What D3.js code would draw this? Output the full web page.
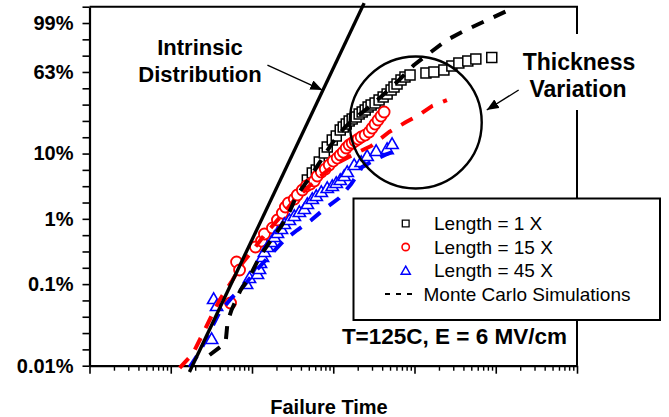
<!DOCTYPE html>
<html><head><meta charset="utf-8">
<script src="https://cdn.jsdelivr.net/npm/d3@7"></script>
<style>
html,body{margin:0;padding:0;background:#fff;}
svg{display:block;font-family:"Liberation Sans",Arial,Helvetica,sans-serif;}
</style></head><body>
<svg id="c" width="669" height="417"></svg>
<script>
// ---- DATA: [log10(failure time), Weibull ln(-ln(1-F))] ----
const intrinsic = [[1.23,-9.19],[3.38,2.11]];

const len1X = [[2.681,-3.311],[2.742,-3.096],[2.791,-3.004],[2.828,-2.759],[2.890,-2.483],[2.926,-2.300],[2.988,-2.085],[3.037,-1.963],[3.086,-1.779],[3.123,-1.687],[3.160,-1.595],[3.196,-1.503],[3.233,-1.442],[3.282,-1.381],[3.319,-1.289],[3.356,-1.227],[3.393,-1.166],[3.429,-1.074],[3.466,-1.013],[3.515,-0.952],[3.564,-0.860],[3.614,-0.768],[3.663,-0.676],[3.712,-0.553],[3.748,-0.461],[3.785,-0.370],[3.834,-0.247],[3.883,-0.155],[3.945,-0.094],[4.141,-0.033],[4.239,-0.002],[4.362,0.059],[4.460,0.182],[4.546,0.274],[4.656,0.335],[4.755,0.396],[4.951,0.442]];

const len15X = [[1.736,-7.079],[1.810,-5.823],[1.847,-6.068],[2.043,-5.363],[2.117,-5.180],[2.153,-4.965],[2.252,-4.781],[2.313,-4.536],[2.374,-4.322],[2.411,-4.138],[2.448,-4.015],[2.521,-3.893],[2.558,-3.770],[2.620,-3.617],[2.669,-3.494],[2.718,-3.433],[2.767,-3.341],[2.804,-3.188],[2.853,-3.066],[2.902,-2.974],[2.951,-2.851],[3.000,-2.729],[3.049,-2.637],[3.086,-2.545],[3.123,-2.453],[3.160,-2.330],[3.196,-2.238],[3.233,-2.177],[3.270,-2.116],[3.307,-2.055],[3.344,-1.993],[3.393,-1.932],[3.442,-1.840],[3.479,-1.718],[3.515,-1.595],[3.552,-1.472],[3.589,-1.350],[3.626,-1.227]];

const len45X = [[1.503,-8.213],[1.528,-6.987],[1.564,-7.202],[1.933,-6.528],[1.969,-6.344],[2.067,-6.221],[2.092,-6.068],[2.104,-5.884],[2.129,-5.700],[2.153,-5.547],[2.190,-5.394],[2.239,-5.241],[2.276,-5.088],[2.313,-4.965],[2.362,-4.843],[2.399,-4.689],[2.460,-4.567],[2.521,-4.444],[2.583,-4.322],[2.644,-4.230],[2.681,-4.077],[2.742,-3.923],[2.791,-3.831],[2.853,-3.709],[2.926,-3.586],[2.988,-3.525],[3.037,-3.433],[3.086,-3.341],[3.135,-3.219],[3.172,-3.096],[3.258,-2.882],[3.344,-2.790],[3.417,-2.606],[3.528,-2.453],[3.663,-2.392],[3.724,-2.238]];

const mc1X = [[1.478,-8.672],[1.675,-8.304],[1.699,-7.661],[1.748,-7.293],[1.859,-6.681],[1.969,-6.282],[2.092,-5.670],[2.252,-5.088],[2.362,-4.720],[2.472,-4.230],[2.546,-3.801],[2.706,-3.249],[2.853,-2.698],[2.988,-2.177],[3.135,-1.718],[3.282,-1.381],[3.442,-1.074],[3.626,-0.676],[3.810,-0.247],[3.994,0.213],[4.153,0.519],[4.399,0.979],[4.607,1.254],[4.791,1.469],[5.123,1.852]];

const mc15X = [[1.110,-9.070],[1.270,-8.641],[1.393,-8.029],[1.478,-7.600],[1.601,-6.987],[1.761,-6.374],[1.883,-5.853],[2.031,-5.394],[2.153,-4.996],[2.337,-4.475],[2.521,-3.923],[2.706,-3.494],[2.890,-3.096],[3.074,-2.759],[3.258,-2.514],[3.466,-2.269],[3.687,-1.840],[3.896,-1.534],[4.055,-1.319],[4.215,-1.044],[4.399,-0.860]];

const mc45X = [[1.233,-9.040],[1.356,-8.580],[1.478,-7.967],[1.601,-7.355],[1.748,-6.926],[1.908,-6.528],[2.055,-6.068],[2.215,-5.639],[2.399,-5.149],[2.558,-4.843],[2.730,-4.536],[2.890,-4.199],[3.074,-3.862],[3.221,-3.433],[3.356,-2.912],[3.503,-2.698],[3.663,-2.514],[3.847,-2.330]];

const yLabelPos  = [1.5, 0, -2.5, -4.5, -6.5, -9];
const yLabelText = ["99%","63%","10%","1%","0.1%","0.01%"];
const legendLabels = ["Length = 1 X","Length = 15 X","Length = 45 X","Monte Carlo Simulations"];

// ---- CHART ----
const svg = d3.select("#c");
const FONT = '"Liberation Sans",Arial,Helvetica,sans-serif';
const L=89.5, R=577, T=6.7, B=365.7;
const x = d3.scaleLog().domain([1,1e6]).range([L,R]);
const y = d3.scaleLinear().domain([-9,2]).range([B,T]);
const X = d => x(Math.pow(10,d[0])), Y = d => y(d[1]);

// y axis
const yAxis = d3.axisLeft(y)
  .tickValues(d3.range(-9,2.001,0.5))
  .tickSize(7).tickSizeOuter(0).tickPadding(9)
  .tickFormat(v => { const i = yLabelPos.findIndex(p => Math.abs(p-v)<1e-6); return i>=0 ? yLabelText[i] : ""; });
const gy = svg.append("g").attr("transform",`translate(${L},0)`).call(yAxis);
gy.select(".domain").attr("stroke-width",2.2);
gy.selectAll(".tick line").attr("stroke-width",1.6);
gy.selectAll("text").attr("font-family",FONT).attr("font-size",20).attr("font-weight","bold").attr("fill","#000");

// x axis (minor + major)
const minor = [];
for (let e=0;e<6;e++) for (let m=2;m<=9;m++) minor.push(m*Math.pow(10,e));
const majors = d3.range(0,7).map(e=>Math.pow(10,e));
const gxm = svg.append("g").attr("transform",`translate(0,${B})`)
  .call(d3.axisBottom(x).tickValues(minor).tickSize(5).tickSizeOuter(0).tickFormat(""));
gxm.select(".domain").attr("stroke-width",2.2);
gxm.selectAll(".tick line").attr("stroke-width",1.4);
const gxM = svg.append("g").attr("transform",`translate(0,${B})`)
  .call(d3.axisBottom(x).tickValues(majors).tickSize(8).tickSizeOuter(0).tickFormat(""));
gxM.select(".domain").remove();
gxM.selectAll(".tick line").attr("stroke-width",1.6);

// frame top + right
svg.append("path").attr("d",`M${L},${T}H${R}V${B}`).attr("fill","none").attr("stroke","#000").attr("stroke-width",2);

// markers
const sym = (type,size) => d3.symbol().type(type).size(size)();
const gPts = svg.append("g");
gPts.selectAll(".sq").data(len1X).join("path").attr("class","sq")
  .attr("transform",d=>`translate(${X(d)},${Y(d)})`).attr("d",sym(d3.symbolSquare,100))
  .attr("fill","#fff").attr("stroke","#000").attr("stroke-width",1.5);
gPts.selectAll(".ci").data(len15X).join("path").attr("class","ci")
  .attr("transform",d=>`translate(${X(d)},${Y(d)})`).attr("d",sym(d3.symbolCircle,95))
  .attr("fill","#fff").attr("stroke","#ff0000").attr("stroke-width",1.8);
gPts.selectAll(".tr").data(len45X).join("path").attr("class","tr")
  .attr("transform",d=>`translate(${X(d)},${Y(d)})`).attr("d",sym(d3.symbolTriangle,65))
  .attr("fill","#fff").attr("stroke","#0000ff").attr("stroke-width",1.6);

// Monte Carlo dashed lines
const line = d3.line().x(X).y(Y);
[[mc45X,"#0000ff"],[mc15X,"#ff0000"],[mc1X,"#000"]].forEach(([data,col])=>{
  svg.append("path").attr("d",line(data)).attr("fill","none").attr("stroke",col)
    .attr("stroke-width",4).attr("stroke-linejoin","round").attr("stroke-dasharray","13,11");
});

// intrinsic line
svg.append("path").attr("d",d3.line().x(X).y(Y)(intrinsic)).attr("fill","none")
  .attr("stroke","#000").attr("stroke-width",3.4);

// annotations
const defs = svg.append("defs");
defs.append("marker").attr("id","ah").attr("viewBox","0 0 12 10").attr("refX",12).attr("refY",5)
  .attr("markerWidth",12).attr("markerHeight",10).attr("markerUnits","userSpaceOnUse").attr("orient","auto")
  .append("path").attr("d","M0,0L12,5L0,10Z").attr("fill","#000");

// circle around thickness variation
svg.append("circle").attr("cx",x(Math.pow(10,4.015))).attr("cy",y(-1.549)).attr("r",66)
  .attr("fill","none").attr("stroke","#000").attr("stroke-width",2.4);

// label bg for thickness variation (covers frame)
svg.append("rect").attr("x",516).attr("y",34).attr("width",126).attr("height",76).attr("fill","#fff");

const bold = (t,xx,yy,size,anchor) => svg.append("text").attr("x",xx).attr("y",yy).text(t)
  .attr("font-family",FONT).attr("font-weight","bold").attr("font-size",size).attr("text-anchor",anchor||"middle").attr("fill","#000");
bold("Intrinsic",200,55,22);
bold("Distribution",200,81.5,22);
bold("Thickness",579,70,23);
bold("Variation",578,96.5,23);
bold("Failure Time",329,414,20);

svg.append("line").attr("x1",x(Math.pow(10,2.19))).attr("y1",y(0.213)).attr("x2",x(Math.pow(10,2.865))).attr("y2",y(-0.553))
  .attr("stroke","#000").attr("stroke-width",1.4).attr("marker-end","url(#ah)");
svg.append("line").attr("x1",x(Math.pow(10,5.282))).attr("y1",y(-0.553)).attr("x2",x(Math.pow(10,4.889))).attr("y2",y(-1.166))
  .attr("stroke","#000").attr("stroke-width",1.4).attr("marker-end","url(#ah)");

// legend
const lg = svg.append("g");
lg.append("rect").attr("x",353.5).attr("y",198.5).attr("width",306.5).attr("height",121.5)
  .attr("fill","#fff").attr("stroke","#000").attr("stroke-width",2);
const rows = [223.5,247,270.5,294];
const mx = 405.7;
lg.append("path").attr("transform",`translate(${mx},${rows[0]})`).attr("d",sym(d3.symbolSquare,46)).attr("fill","#fff").attr("stroke","#000").attr("stroke-width",1.3);
lg.append("path").attr("transform",`translate(${mx},${rows[1]})`).attr("d",sym(d3.symbolCircle,42)).attr("fill","#fff").attr("stroke","#ff0000").attr("stroke-width",1.6);
lg.append("path").attr("transform",`translate(${mx},${rows[2]+1})`).attr("d",sym(d3.symbolTriangle,36)).attr("fill","#fff").attr("stroke","#0000ff").attr("stroke-width",1.5);
lg.append("line").attr("x1",385).attr("x2",414).attr("y1",rows[3]).attr("y2",rows[3]).attr("stroke","#000").attr("stroke-width",2.2).attr("stroke-dasharray","5,6");
legendLabels.forEach((t,i)=>{
  lg.append("text").attr("x", i<3 ? 434 : 423.5).attr("y",rows[i]).attr("dy","0.35em").text(t)
    .attr("font-family",FONT).attr("font-size",19).attr("fill","#000");
});

bold("T=125C, E = 6 MV/cm",567,344,22.5,"end");
</script>
</body></html>
